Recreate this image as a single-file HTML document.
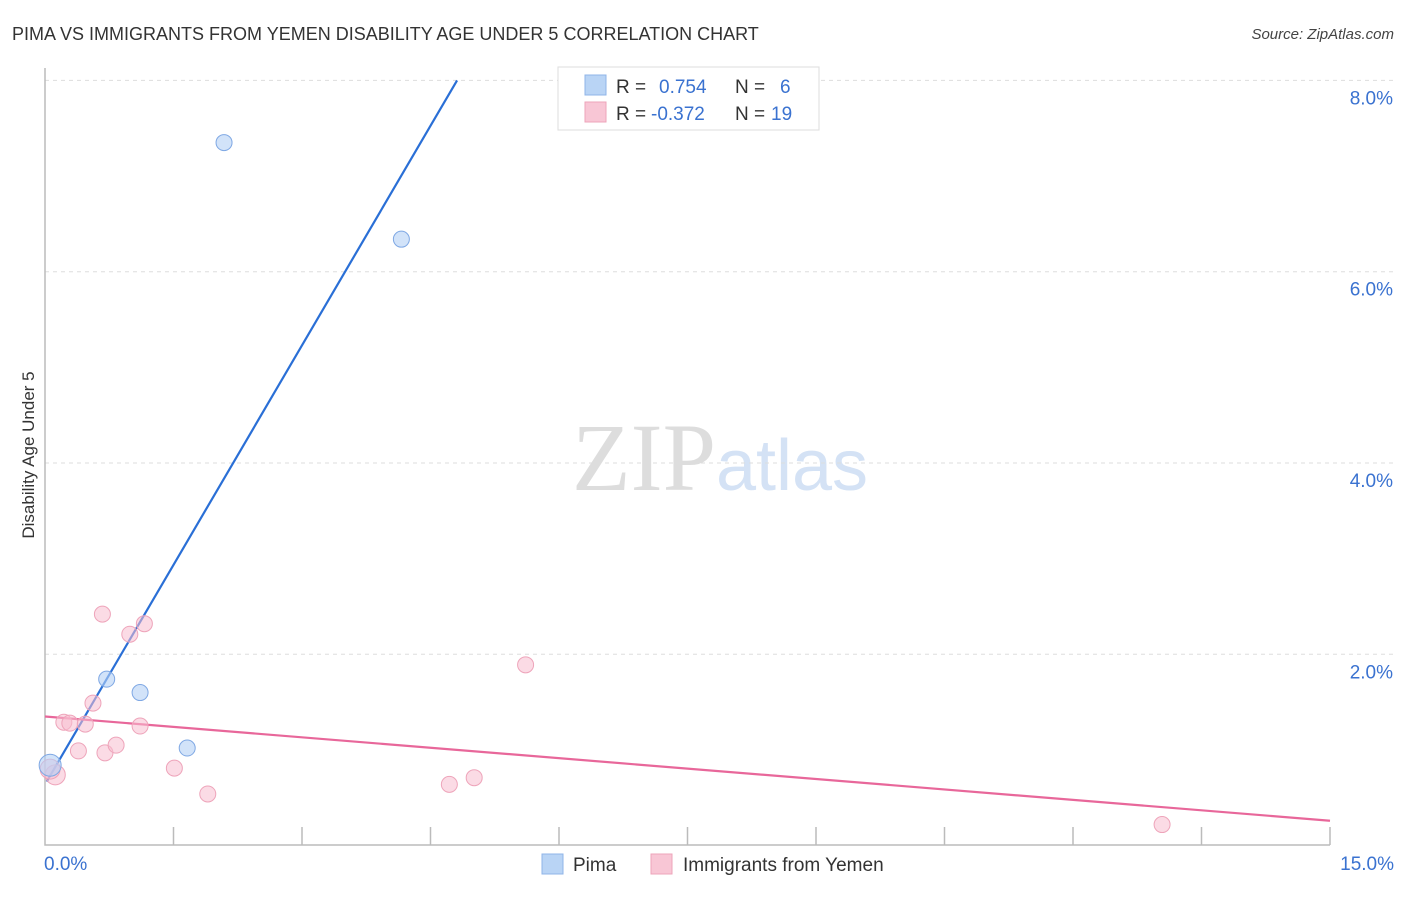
<!DOCTYPE html>
<html><head><meta charset="utf-8"><style>
body{margin:0;background:#fff;font-family:"Liberation Sans",sans-serif;}
svg text{font-family:"Liberation Sans",sans-serif;}
</style></head><body>
<svg id="chart" width="1406" height="892" xmlns="http://www.w3.org/2000/svg">
<text x="12" y="40" font-size="18" fill="#333">PIMA VS IMMIGRANTS FROM YEMEN DISABILITY AGE UNDER 5 CORRELATION CHART</text>
<text x="1394" y="39" font-size="15" fill="#444" text-anchor="end" font-style="italic">Source: ZipAtlas.com</text>
<text x="720" y="490" font-size="96" text-anchor="middle"><tspan font-family="Liberation Serif" fill="#ddd">ZIP</tspan><tspan fill="#d4e2f5" font-size="72">atlas</tspan></text>
<text transform="translate(34,455) rotate(-90)" font-size="17" fill="#333" text-anchor="middle">Disability Age Under 5</text>
<g id="grid"></g><g id="axes"></g><g id="lines"></g><g id="pts"></g>
<g>
<rect x="558" y="67" width="261" height="63" fill="#fff" stroke="#ddd"/>
<rect x="585" y="75" width="21" height="20" fill="#b9d4f5" stroke="#8fb4e8"/>
<rect x="585" y="102" width="21" height="20" fill="#f8c6d5" stroke="#eea4ba"/>
<text x="616" y="93" font-size="19" fill="#333">R = </text><text x="659" y="93" font-size="19" fill="#3a72d0">0.754</text>
<text x="735" y="93" font-size="19" fill="#333">N = </text><text x="780" y="93" font-size="19" fill="#3a72d0">6</text>
<text x="616" y="120" font-size="19" fill="#333">R = </text><text x="651" y="120" font-size="19" fill="#3a72d0">-0.372</text>
<text x="735" y="120" font-size="19" fill="#333">N = </text><text x="771" y="120" font-size="19" fill="#3a72d0">19</text>
</g>
<g>
<rect x="542" y="854" width="21" height="20" fill="#b9d4f5" stroke="#8fb4e8"/>
<text x="573" y="871" font-size="19" fill="#333">Pima</text>
<rect x="651" y="854" width="21" height="20" fill="#f8c6d5" stroke="#eea4ba"/>
<text x="683" y="871" font-size="19" fill="#333">Immigrants from Yemen</text>
</g>
</svg>
<script>
const yTicks=[2,4,6,8];
const yTickLabels=["2.0%","4.0%","6.0%","8.0%"];
const xTickLabels=["0.0%","15.0%"];
const pimaX=[2.09,4.16,0.72,1.11,1.66,0.06];
const pimaY=[7.35,6.34,1.74,1.60,1.02,0.84];
const pimaR=[8,8,8,8,8,11];
const yemX=[0.67,0.99,1.16,0.22,0.29,0.47,0.56,1.11,0.39,0.70,0.83,1.51,1.90,4.72,5.01,5.61,13.04,0.12,0.06];
const yemY=[2.42,2.21,2.32,1.29,1.28,1.27,1.49,1.25,0.99,0.97,1.05,0.81,0.54,0.64,0.71,1.89,0.22,0.74,0.80];
const pimaLine=[[0.02,0.67],[4.81,8.0]];
const yemLine=[[0,1.35],[15,0.26]];
const NS="http://www.w3.org/2000/svg";
const sx=v=>45+v*1285/15, sy=v=>845.6-v*95.65;
function mk(t,a,p){const e=document.createElementNS(NS,t);for(const k in a)e.setAttribute(k,a[k]);document.getElementById(p).appendChild(e);return e;}
yTicks.forEach((t,i)=>{
 const g=mk('line',{x1:45,x2:1394,y1:sy(t),y2:sy(t),stroke:'#ddd','stroke-dasharray':'4,4'},'grid');
 
 
 const l=mk('text',{x:1393,y:sy(t)+24,'font-size':19,fill:'#3a72d0','text-anchor':'end'},'axes');l.textContent=yTickLabels[i];
 
 
});
const ax=mk('path',{d:'M45 68 V845 H1330',stroke:'#bbb',fill:'none','stroke-width':1.5},'axes');


for(let i=1;i<=10;i++){const x=45+i*128.5;const t=mk('line',{x1:x,x2:x,y1:827,y2:845,stroke:'#bbb','stroke-width':1.5},'axes');
 
 }
[[0,44,'start'],[15,1394,'end']].forEach((d,i)=>{const l=mk('text',{x:d[1],y:870,'font-size':19,fill:'#3a72d0','text-anchor':d[2]},'axes');l.textContent=xTickLabels[i];
 
 });
const pl=mk('line',{x1:sx(pimaLine[0][0]),y1:sy(pimaLine[0][1]),x2:sx(pimaLine[1][0]),y2:sy(pimaLine[1][1]),stroke:'#2a6fd6','stroke-width':2.2},'lines');


const yl=mk('line',{x1:sx(yemLine[0][0]),y1:sy(yemLine[0][1]),x2:sx(yemLine[1][0]),y2:sy(yemLine[1][1]),stroke:'#e8679a','stroke-width':2.2},'lines');


yemX.forEach((x,i)=>{const c=mk('circle',{cx:sx(x),cy:sy(yemY[i]),r:i>=17?10:8,fill:'rgba(248,190,208,0.55)',stroke:'#eea4ba'},'pts');
 
 });
pimaX.forEach((x,i)=>{const c=mk('circle',{cx:sx(x),cy:sy(pimaY[i]),r:pimaR[i],fill:'rgba(180,208,245,0.6)',stroke:'#7fa8e4'},'pts');
 
 });
</script>
</body></html>
